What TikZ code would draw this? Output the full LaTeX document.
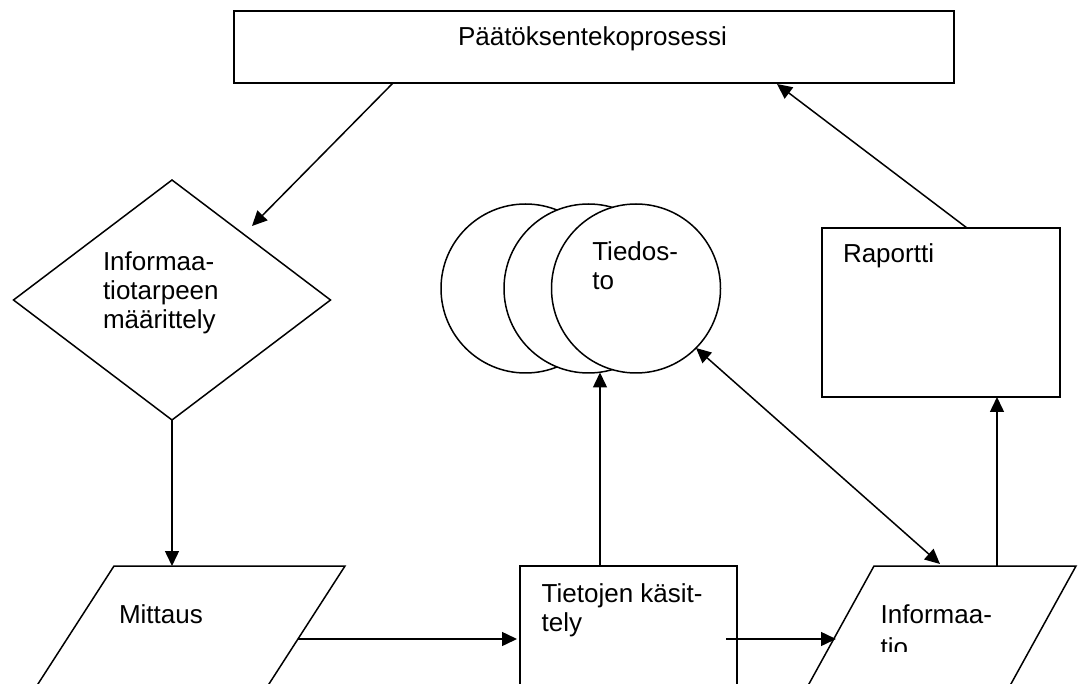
\documentclass[tikz,border=0pt]{standalone}
\usepackage{fontspec}
\setmainfont{Liberation Sans}
\usetikzlibrary{shapes.geometric,arrows.meta}
% stacked lines of a label, baseline on the first line
\newcommand{\txtlines}[2][29pt]{\vtop{\baselineskip=#1\lineskiplimit=-20pt #2}}
\begin{document}
\begin{tikzpicture}[x=1pt,y=-1pt,line width=1.5pt,
  box/.style={draw,fill=white,inner sep=0pt,outer sep=0pt},
  txt/.style={anchor=base west,inner sep=0pt,outer sep=0pt,font=\fontsize{26}{29}\selectfont},
  flow/.style={-{Triangle[length=15pt,width=14pt]}},
  twoway/.style={{Triangle[length=15pt,width=14pt]}-{Triangle[length=15pt,width=14pt]}}]
\useasboundingbox (0,0) rectangle (1079,684);
\clip (0,0) rectangle (1079,684);

% decision making process
\node[box,line width=2pt,minimum width=720pt,minimum height=72pt] (decide) at (594,47) {};
\node[txt] (decideT) at (458,46) {Päätöksentekoprosessi};

% information need
\node[box,diamond,minimum width=317pt,minimum height=240pt] (need) at (172,300) {};
\node[txt] (needT) at (103,270.7) {\txtlines{\hbox{Informaa-}\hbox{tiotarpeen}\hbox{määrittely}}};

% data store
\node[box,circle,minimum size=169pt] (store1) at (525.5,288.5) {};
\node[box,circle,minimum size=169pt] (store2) at (588.5,288.5) {};
\node[box,circle,minimum size=169pt] (store3) at (636,288.5) {};
\node[txt] (storeT) at (592.3,261) {\txtlines{\hbox{Tiedos-}\hbox{to}}};

% report
\node[box,minimum width=238pt,minimum height=169pt] (report) at (941,312.5) {};
\node[txt] (reportT) at (843,262.7) {Raportti};

% measurement
\draw[fill=white] (114,566) -- (345,566) -- (220,760) -- (-11,760) -- cycle;
\node[txt] (measureT) at (119,623.3) {Mittaus};

% data processing
\node[box,minimum width=217pt,minimum height=194pt] (handle) at (628.5,663) {};
\node[txt] (handleT) at (541.7,602.3) {\txtlines[29.4pt]{\hbox{Tietojen käsit-}\hbox{tely}}};

% information
\draw[fill=white] (874,566) -- (1076,566) -- (969,760) -- (767,760) -- cycle;
\node[txt] (infoT) at (880.7,623.3) {Informaa-};
\begin{scope}
  \clip (870,600) rectangle (1079,651.5);
  \node[txt] (infoT2) at (880.7,656) {tio};
\end{scope}

% connector end points
\coordinate (decideOut) at (393,83);
\coordinate (decideIn) at (777,84);
\coordinate (needIn) at (252,226);
\coordinate (measureIn) at (172,566);
\coordinate (measureOut) at (298,639);
\coordinate (handleIn) at (517,639);
\coordinate (handleOut) at (726,639);
\coordinate (handleUp) at (600,566);
\coordinate (storeIn) at (600,372.5);
\coordinate (storeIO) at (696,348);
\coordinate (infoIn) at (836,639);
\coordinate (infoIO) at (940,564);
\coordinate (infoUp) at (997,566);
\coordinate (reportIn) at (997,397);
\coordinate (reportOut) at (967,228);

% connectors
\draw[flow] (decideOut) -- (needIn);
\draw[flow] (need.south) -- (measureIn);
\draw[flow] (measureOut) -- (handleIn);
\draw[flow] (handleOut) -- (infoIn);
\draw[flow] (handleUp) -- (storeIn);
\draw[twoway] (storeIO) -- (infoIO);
\draw[flow] (infoUp) -- (reportIn);
\draw[flow] (reportOut) -- (decideIn);
\end{tikzpicture}
\end{document}
